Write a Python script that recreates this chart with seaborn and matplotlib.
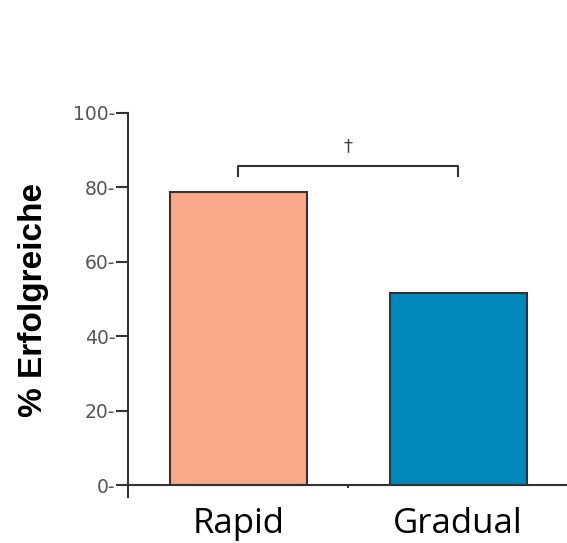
import matplotlib
matplotlib.use("Agg")
import matplotlib.pyplot as plt
import seaborn as sns
import pandas as pd

# values
groups = ["Rapid", "Gradual"]
success_pct = [78.7, 51.7]
bar_colors = ["#F9A98A", "#0088B9"]
y_ticks = [0, 20, 40, 60, 80, 100]
y_tick_labels = [f"{t}-" for t in y_ticks]
sig_mark = "\u2020"

df = pd.DataFrame({"Gruppe": groups, "Erfolg": success_pct})

sns.set_style("white")
fig = plt.figure(figsize=(5.67, 5.43), dpi=100)
ax = fig.add_axes([0.2257, 0.0847, 0.7743, 0.7072])

sns.barplot(data=df, x="Gruppe", y="Erfolg", hue="Gruppe",
            palette=bar_colors, saturation=1, width=0.623,
            edgecolor="#333333", linewidth=1.5, legend=False, ax=ax)

ax.set_xlim(-0.502, 1.495)
ax.set_ylim(-3.2, 100)
ax.spines["bottom"].set_position(("data", 0))
for s in ["top", "right"]:
    ax.spines[s].set_visible(False)
for s in ["left", "bottom"]:
    ax.spines[s].set_color("#333333")
    ax.spines[s].set_linewidth(1.5)

ax.set_yticks(y_ticks)
ax.set_yticklabels(y_tick_labels, color="#555555", fontsize=13.5,
                   family="DejaVu Sans")
ax.tick_params(axis="y", length=9, width=1.5, color="#333333", pad=0,
               direction="out", left=True)

ax.set_xticks([0, 1])
ax.set_xticklabels(groups, fontsize=25, family="Open Sans", color="black")
ax.tick_params(axis="x", length=0, pad=16)
ax.set_xticks([0.5], minor=True)
ax.tick_params(axis="x", which="minor", length=2, width=1.5,
               color="#333333", bottom=True)

ax.set_xlabel("")
ax.set_ylabel("% Erfolgreiche", fontsize=24, fontweight="bold",
              family="Liberation Sans", color="black")
ax.yaxis.set_label_coords(-0.18, 0.513)

# significance bracket
br_y, br_drop = 85.7, 82.7
ax.plot([0, 0, 1, 1], [br_drop, br_y, br_y, br_drop], color="#333333",
        lw=1.5, solid_capstyle="butt", clip_on=False)
ax.text(0.5, 88.6, sig_mark, ha="center", va="bottom", fontsize=13,
        color="#444444")

fig.savefig("out.png", dpi=100)
